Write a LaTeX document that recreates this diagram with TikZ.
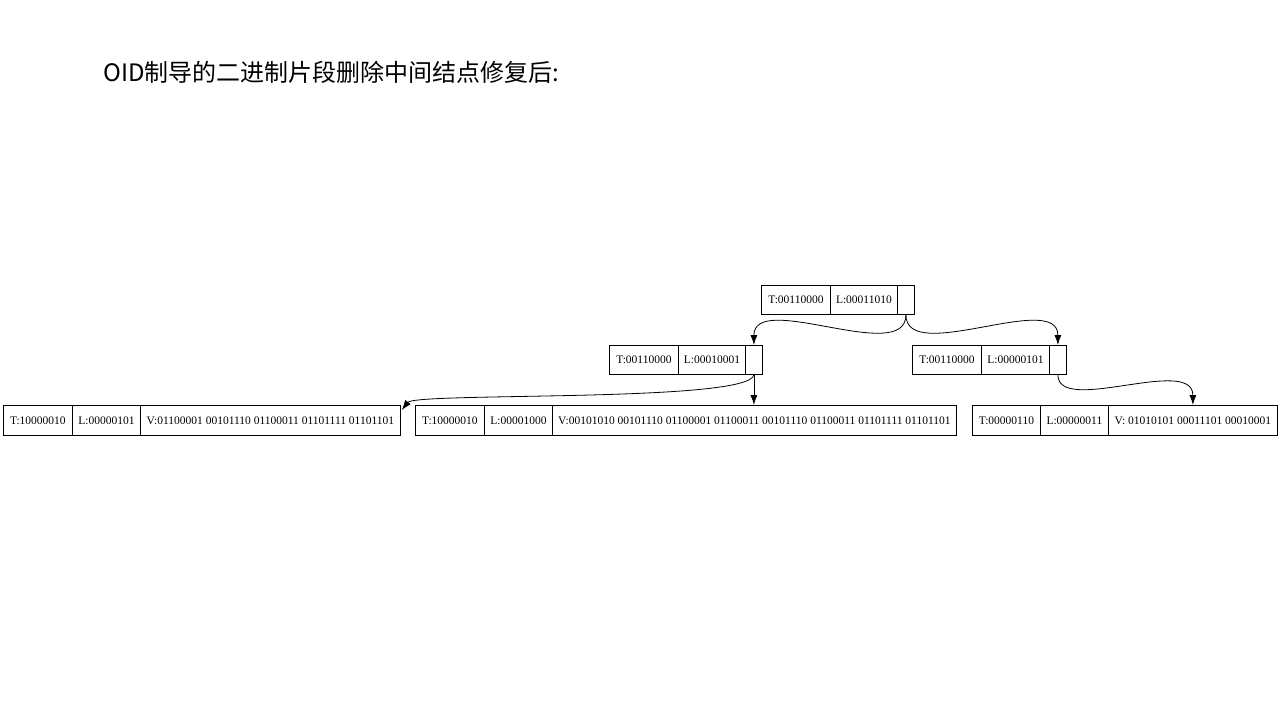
\documentclass[tikz,border=0pt]{standalone}
\usepackage{fontspec}
\setmainfont{Liberation Serif}
\newfontfamily\cjk{Noto Sans CJK SC}
\usetikzlibrary{arrows.meta}
\begin{document}
\begin{tikzpicture}[x=1pt,y=-1pt,
  cell/.style={draw, line width=0.8pt, minimum height=29pt, inner sep=0pt, anchor=north west, font=\fontsize{11.5}{13}\selectfont},
  bcell/.style={cell, minimum height=30pt},
  edge/.style={line width=0.8pt, -{Latex[length=10pt,width=7pt]}}]
\useasboundingbox[fill=white] (0,0) rectangle (1280,720);
\node[anchor=base west, font=\cjk\fontsize{24}{28}\selectfont, inner sep=0pt] (title) at (103,81) {OID制导的二进制片段删除中间结点修复后:};
% root
\node[cell, minimum width=69pt] (rT) at (761,285) {T:00110000};
\node[cell, minimum width=67pt] (rL) at (830,285) {L:00011010};
\node[cell, minimum width=17pt] (rP) at (897,285) {};
% mid-left
\node[cell, minimum width=69pt] (mlT) at (609,345) {T:00110000};
\node[cell, minimum width=67pt] (mlL) at (678,345) {L:00010001};
\node[cell, minimum width=17pt] (mlP) at (745,345) {};
% mid-right
\node[cell, minimum width=69pt] (mrT) at (912,345) {T:00110000};
\node[cell, minimum width=68pt] (mrL) at (981,345) {L:00000101};
\node[cell, minimum width=17pt] (mrP) at (1049,345) {};
% bottom-left
\node[bcell, minimum width=69pt] (blT) at (3,405) {T:10000010};
\node[bcell, minimum width=68pt] (blL) at (72,405) {L:00000101};
\node[bcell, minimum width=260pt] (blV) at (140,405) {V:01100001 00101110 01100011 01101111 01101101};
% bottom-mid
\node[bcell, minimum width=69pt] (bmT) at (415,405) {T:10000010};
\node[bcell, minimum width=68pt] (bmL) at (484,405) {L:00001000};
\node[bcell, minimum width=404pt] (bmV) at (552,405) {V:00101010 00101110 01100001 01100011 00101110 01100011 01101111 01101101};
% bottom-right
\node[bcell, minimum width=68pt] (brT) at (972,405) {T:00000110};
\node[bcell, minimum width=68pt] (brL) at (1040,405) {L:00000011};
\node[bcell, minimum width=169pt] (brV) at (1108,405) {V: 01010101 00011101 00010001};
% edges
\draw[edge] (rP.south) .. controls +(0,51) and +(0,-55) .. (mlP.north);
\draw[edge] (rP.south) .. controls +(0,51) and +(0,-55) .. (mrP.north);
\draw[edge] (mlP.south) -- (mlP.south |- bmV.north);
\draw[edge] (mlP.south) .. controls +(-4,28) and +(14,-18) .. ([shift={(1,5)}]blV.north east);
\draw[edge] (mrP.south) .. controls +(0,41) and +(0,-50) .. (brV.north);
\end{tikzpicture}
\end{document}
